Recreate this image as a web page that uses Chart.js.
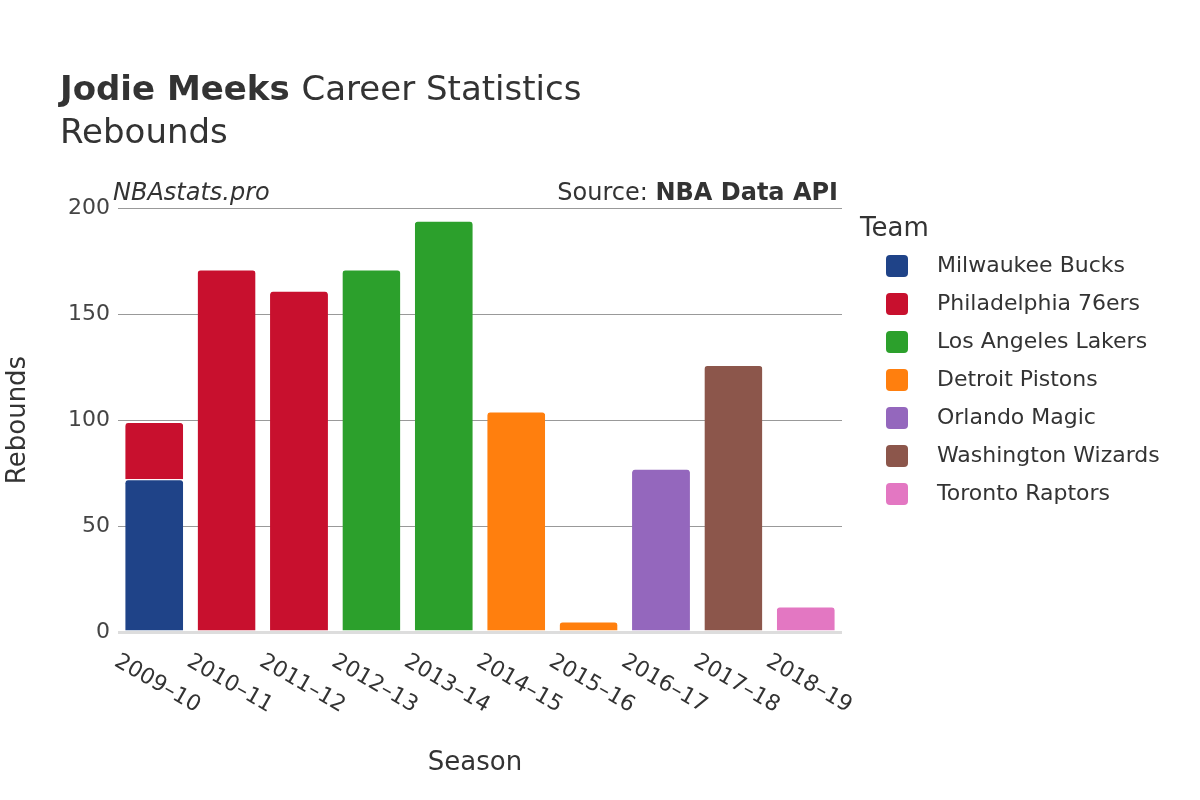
<!DOCTYPE html>
<html><head><meta charset="utf-8">
<script src="https://cdn.jsdelivr.net/npm/chart.js@4"></script>
<style>body{margin:0;background:#fff}#w{width:1200px;height:800px}</style>
</head><body><div id="w"><canvas id="c" width="1200" height="800"></canvas></div>
<script>
const seasons=["2009–10","2010–11","2011–12","2012–13","2013–14","2014–15","2015–16","2016–17","2017–18","2018–19"];
const teams=["Milwaukee Bucks","Philadelphia 76ers","Los Angeles Lakers","Detroit Pistons","Orlando Magic","Washington Wizards","Toronto Raptors"];
const colors=["#1f4388","#c8102e","#2ca02c","#ff7f0e","#9467bd","#8c564b","#e377c2"];
const bucks=[72,null,null,null,null,null,null,null,null,null];
const sixers=[27,171,161,null,null,null,null,null,null,null];
const lakers=[null,null,null,171,194,null,null,null,null,null];
const pistons=[null,null,null,null,null,104,5,null,null,null];
const magic=[null,null,null,null,null,null,null,77,null,null];
const wizards=[null,null,null,null,null,null,null,null,126,null];
const raptors=[null,null,null,null,null,null,null,null,null,12];
const yTicks=[0,50,100,150,200];
const series=[bucks,sixers,lakers,pistons,magic,wizards,raptors];
const F="'DejaVu Sans', sans-serif";
const deco={id:'deco',afterDraw(ch){
 const c=ch.ctx,x=ch.scales.x,a=ch.chartArea;c.save();
 c.fillStyle='#333';c.textBaseline='alphabetic';
 c.font="bold 34px "+F;c.fillText("Jodie Meeks",60,100);
 const w=c.measureText("Jodie Meeks ").width;
 c.font="34px "+F;c.fillText("Career Statistics",60+w,100);
 c.fillText("Rebounds",60,143);
 c.font="italic 24px "+F;c.fillText("NBAstats.pro",113,200);
 c.textAlign='right';c.font="bold 24px "+F;c.fillText("NBA Data API",838,200);
 const bw=c.measureText("NBA Data API").width;
 c.font="24px "+F;c.fillText("Source: ",838-bw,200);
 c.textAlign='center';c.font="26px "+F;c.fillText("Season",475,770);
 c.save();c.translate(25,420);c.rotate(-Math.PI/2);c.fillText("Rebounds",0,0);c.restore();
 c.font="22px "+F;c.textAlign='left';c.textBaseline='middle';
 seasons.forEach((s,i)=>{const px=x.getPixelForValue(i);c.save();c.translate(px-38,660);c.rotate(Math.PI/6);c.fillText(s,0,0);c.restore();});
 c.font="26px "+F;c.textBaseline='alphabetic';c.fillText("Team",860,236);
 c.font="22px "+F;c.textBaseline='middle';
 teams.forEach((t,i)=>{const y=266+i*38;c.fillStyle=colors[i];c.beginPath();c.roundRect(886,y-11,22,22,4);c.fill();c.fillStyle='#333';c.fillText(t,937,y);});
 c.restore();}};
new Chart(document.getElementById('c'),{type:'bar',
data:{labels:seasons,datasets:series.map((d,i)=>({label:teams[i],data:d,backgroundColor:colors[i],borderColor:'#fff',borderWidth:{top:1},borderRadius:{topLeft:4,topRight:4},borderSkipped:'bottom',categoryPercentage:0.8,barPercentage:1}))},
options:{responsive:false,animation:false,
layout:{padding:{left:60,top:208,right:358,bottom:160}},
plugins:{legend:{display:false},tooltip:{enabled:false}},
scales:{x:{stacked:true,grid:{display:false},border:{display:false},ticks:{display:false}},
y:{stacked:true,min:0,max:200,afterBuildTicks:s=>{s.ticks=yTicks.map(v=>({value:v}));},
 grid:{color:c=>c.tick.value===0?'#ddd':'#999',lineWidth:c=>c.tick.value===0?3:1,drawTicks:false},border:{display:false},
 ticks:{color:'#444',font:{size:22,family:F},padding:8}}}},
plugins:[deco]});
</script></body></html>
